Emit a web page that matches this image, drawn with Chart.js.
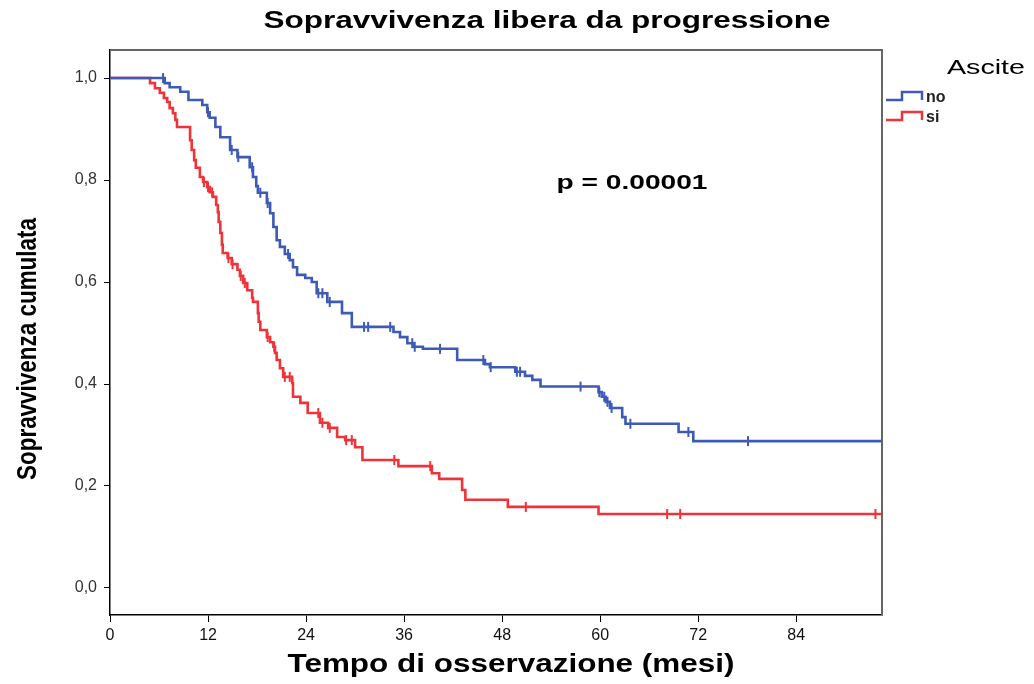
<!DOCTYPE html>
<html>
<head>
<meta charset="utf-8">
<script src="https://cdn.jsdelivr.net/npm/chart.js@4.4.1/dist/chart.umd.min.js"></script>
<style>
html,body{margin:0;padding:0;background:#fff;}
canvas{display:block;}
</style>
</head>
<body>
<canvas id="c" width="1034" height="684"></canvas>
<script>
// ---- Data (months, cumulative survival) ----
const noTimes = [0, 6.7, 7.3, 8.6, 9.6, 11.3, 11.9, 12.2, 12.9, 13.5, 14.7, 15.6, 17.1, 17.5, 17.9, 18.1, 19.2, 19.6, 20.0, 20.4, 20.8, 21.4, 22.0, 22.4, 22.9, 23.9, 24.7, 25.3, 26.6, 28.4, 29.6, 34.7, 35.5, 36.4, 37.1, 38.3, 42.5, 45.9, 46.5, 49.6, 50.8, 51.7, 52.7, 59.8, 60.2, 60.7, 61.2, 62.7, 63.1, 69.6, 71.4, 94.5];
const noSurv  = [1.0, 0.990, 0.982, 0.973, 0.957, 0.947, 0.933, 0.922, 0.904, 0.884, 0.859, 0.845, 0.825, 0.806, 0.788, 0.775, 0.755, 0.735, 0.708, 0.682, 0.669, 0.655, 0.643, 0.629, 0.614, 0.608, 0.600, 0.578, 0.561, 0.539, 0.512, 0.502, 0.492, 0.480, 0.473, 0.469, 0.447, 0.439, 0.433, 0.424, 0.416, 0.408, 0.395, 0.384, 0.375, 0.365, 0.353, 0.335, 0.322, 0.306, 0.288, 0.288];
const noCensored = [6.5, 12.0, 14.9, 15.7, 17.4, 18.4, 19.3, 21.8, 25.5, 26.0, 26.9, 31.1, 31.6, 34.3, 37.0, 37.3, 40.4, 45.7, 46.6, 49.8, 50.2, 57.6, 59.9, 60.5, 60.9, 61.4, 63.7, 70.8, 78.1, 94.5];

const siTimes = [0, 4.9, 5.5, 6.1, 6.6, 7.0, 7.3, 7.7, 8.0, 8.2, 9.8, 10.0, 10.3, 10.5, 11.0, 11.4, 11.9, 12.2, 12.6, 13.0, 13.2, 13.3, 13.5, 13.7, 13.8, 14.4, 14.9, 15.6, 15.9, 16.3, 16.8, 17.4, 17.5, 18.1, 18.2, 18.4, 19.2, 19.6, 20.0, 20.2, 20.4, 20.8, 21.2, 22.3, 22.4, 23.3, 24.2, 25.7, 26.7, 27.8, 28.8, 30.0, 30.9, 35.3, 39.4, 40.3, 43.1, 43.5, 48.7, 59.8, 94.5];
const siSurv  = [1.0, 0.990, 0.980, 0.971, 0.961, 0.953, 0.941, 0.931, 0.918, 0.904, 0.878, 0.859, 0.839, 0.824, 0.806, 0.796, 0.786, 0.776, 0.767, 0.751, 0.737, 0.718, 0.696, 0.673, 0.657, 0.647, 0.635, 0.624, 0.612, 0.598, 0.584, 0.569, 0.561, 0.539, 0.522, 0.506, 0.492, 0.482, 0.473, 0.461, 0.447, 0.431, 0.414, 0.402, 0.375, 0.363, 0.343, 0.324, 0.314, 0.296, 0.290, 0.276, 0.251, 0.239, 0.225, 0.214, 0.192, 0.173, 0.159, 0.145, 0.145];
const siCensored = [11.5, 12.0, 12.5, 14.5, 15.0, 16.0, 16.5, 19.3, 20.1, 21.4, 22.0, 25.5, 26.0, 26.9, 28.9, 29.6, 34.8, 39.2, 50.9, 68.2, 69.8, 93.7];

const xTicks = [0, 12, 24, 36, 48, 60, 72, 84];
const yTicks = [0, 0.2, 0.4, 0.6, 0.8, 1.0];
const groupLabels = ['no', 'si'];

const BLUE = '#3d5ab4';
const RED = '#ef3338';

function curve(times, surv) { return times.map((t, i) => ({x: t, y: surv[i]})); }
function survAt(times, surv, t) {
  let s = surv[0];
  for (let i = 0; i < times.length; i++) { if (times[i] <= t) s = surv[i]; }
  return s;
}
function marks(cens, times, surv) { return cens.map(t => ({x: t, y: survAt(times, surv, t)})); }

function stretchText(ctx, text, cx, cy, targetW, font, color, rot) {
  ctx.save();
  ctx.font = font; ctx.fillStyle = color;
  ctx.textAlign = 'center'; ctx.textBaseline = 'middle';
  const w = ctx.measureText(text).width;
  ctx.translate(cx, cy);
  if (rot) ctx.rotate(rot);
  ctx.scale(targetW / w, 1);
  ctx.fillText(text, 0, 0);
  ctx.restore();
}

const decor = {
  id: 'decor',
  afterDraw(chart) {
    const ctx = chart.ctx;
    const a = chart.chartArea;
    // top/right frame
    ctx.save();
    ctx.strokeStyle = '#666'; ctx.lineWidth = 2;
    ctx.beginPath();
    ctx.moveTo(a.left, a.top); ctx.lineTo(a.right, a.top); ctx.lineTo(a.right, a.bottom);
    ctx.stroke();
    ctx.restore();
    const F = "'Liberation Sans', Arial, sans-serif";
    stretchText(ctx, 'Sopravvivenza libera da progressione', 547, 22, 567, 'bold 23px ' + F, '#000');
    stretchText(ctx, 'Tempo di osservazione (mesi)', 511, 665, 447, 'bold 26px ' + F, '#000');
    stretchText(ctx, 'Sopravvivenza cumulata', 28, 349, 262, 'bold 28px ' + F, '#000', -Math.PI / 2);
    stretchText(ctx, 'p = 0.00001', 632, 183, 151, 'bold 20px ' + F, '#000');
    stretchText(ctx, 'Ascite', 986, 68, 78, '20px ' + F, '#000');
    // legend
    const items = [{c: BLUE, y: 100, t: groupLabels[0]}, {c: RED, y: 120, t: groupLabels[1]}];
    items.forEach(it => {
      ctx.save();
      ctx.strokeStyle = it.c; ctx.lineWidth = 2.5;
      ctx.beginPath();
      ctx.moveTo(886, it.y); ctx.lineTo(902, it.y); ctx.lineTo(902, it.y - 8);
      ctx.lineTo(922, it.y - 8); ctx.lineTo(922, it.y);
      ctx.stroke();
      ctx.restore();
      ctx.save();
      ctx.font = 'bold 16px ' + F; ctx.fillStyle = '#222';
      ctx.textAlign = 'left'; ctx.textBaseline = 'middle';
      ctx.fillText(it.t, 926, it.y - 2);
      ctx.restore();
    });
  }
};

const tickFontX = {family: "'Liberation Sans Narrow', 'Liberation Sans', Arial, sans-serif", size: 16};
const tickFontY = {family: "'Liberation Sans', Arial, sans-serif", size: 16};

new Chart(document.getElementById('c'), {
  type: 'line',
  data: {
    datasets: [
      {label: groupLabels[0], data: curve(noTimes, noSurv), stepped: 'before', borderColor: BLUE, borderWidth: 2.6, pointRadius: 0, fill: false},
      {label: groupLabels[1], data: curve(siTimes, siSurv), stepped: 'before', borderColor: RED, borderWidth: 2.6, pointRadius: 0, fill: false},
      {label: 'cens no', data: marks(noCensored, noTimes, noSurv), showLine: false, pointStyle: 'line', rotation: 90, pointRadius: 5, pointBorderWidth: 2, borderColor: BLUE, pointBorderColor: BLUE, pointHoverRadius: 5},
      {label: 'cens si', data: marks(siCensored, siTimes, siSurv), showLine: false, pointStyle: 'line', rotation: 90, pointRadius: 5, pointBorderWidth: 2, borderColor: RED, pointBorderColor: RED, pointHoverRadius: 5}
    ]
  },
  options: {
    responsive: false,
    animation: false,
    events: [],
    layout: {padding: {top: 50, right: 152, left: 0, bottom: 0}},
    plugins: {legend: {display: false}, title: {display: false}, tooltip: {enabled: false}},
    scales: {
      x: {
        type: 'linear', min: 0, max: 94.5,
        afterFit(s) { s.height = 69; },
        afterBuildTicks(s) { s.ticks = xTicks.map(v => ({value: v})); },
        grid: {display: true, drawOnChartArea: false, drawTicks: true, tickLength: 7, color: '#000'},
        border: {display: true, color: '#000', width: 1.5},
        ticks: {color: '#111', font: tickFontX, padding: 4, maxRotation: 0, autoSkip: false, callback: v => String(v)}
      },
      y: {
        type: 'linear', min: -0.053, max: 1.055,
        afterFit(s) { s.width = 110; },
        afterBuildTicks(s) { s.ticks = yTicks.map(v => ({value: v})); },
        grid: {display: true, drawOnChartArea: false, drawTicks: true, tickLength: 6, color: '#000'},
        border: {display: true, color: '#000', width: 1.5},
        ticks: {color: '#333', font: tickFontY, padding: 7, autoSkip: false, callback: v => v.toFixed(1).replace('.', ',')}
      }
    }
  },
  plugins: [decor]
});
</script>
</body>
</html>
